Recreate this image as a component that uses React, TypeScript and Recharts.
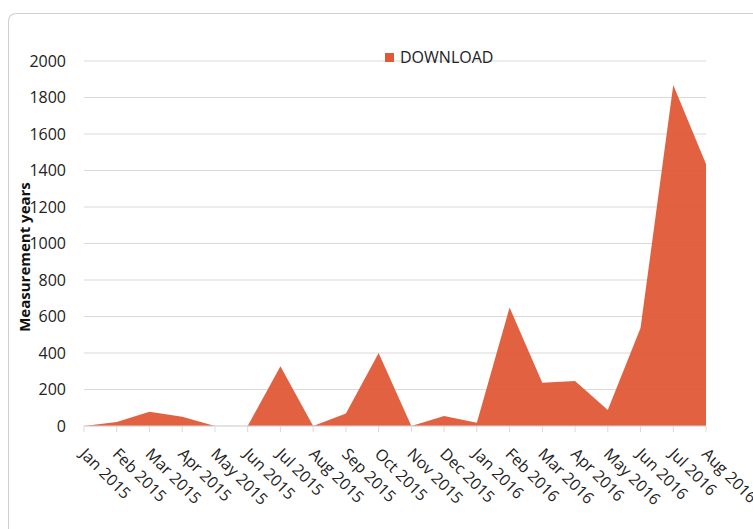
import { AreaChart, Area, XAxis, YAxis, CartesianGrid, Legend } from 'recharts'

const months = [
  'Jan 2015', 'Feb 2015', 'Mar 2015', 'Apr 2015', 'May 2015', 'Jun 2015', 'Jul 2015',
  'Aug 2015', 'Sep 2015', 'Oct 2015', 'Nov 2015', 'Dec 2015', 'Jan 2016', 'Feb 2016',
  'Mar 2016', 'Apr 2016', 'May 2016', 'Jun 2016', 'Jul 2016', 'Aug 2016',
]
const downloads = [
  0, 22, 78, 51, 0, 0, 327, 0, 69, 400, 0, 55, 18, 650, 237, 246, 88, 537, 1868, 1436,
]
const yTicks = [0, 200, 400, 600, 800, 1000, 1200, 1400, 1600, 1800, 2000]

const data = months.map((m, i) => ({ month: m, download: downloads[i] }))

const FILL = '#E05836'
const FONT = '"Open Sans", sans-serif'

// rotated month labels hanging down-right from each tick
const MonthTick = ({ x, y, payload }: { x?: number; y?: number; payload?: { value: string } }) => (
  <g transform={`translate(${(x ?? 0) - 5},${(y ?? 0) + 21}) rotate(45)`}>
    <text x={0} y={0} textAnchor="start" fill="#222" fontFamily={FONT} fontSize={16}>
      {payload?.value}
    </text>
  </g>
)

const YLabel = () => (
  <text
    x={30} y={257} transform="rotate(-90 30 257)" textAnchor="middle"
    fill="#111" fontFamily={FONT} fontSize={15} fontWeight="bold"
  >
    Measurement years
  </text>
)

const LegendBox = () => (
  <div style={{ display: 'flex', alignItems: 'center', fontFamily: FONT, fontSize: 16, color: '#222' }}>
    <span style={{ width: 9, height: 9, background: FILL, display: 'inline-block', marginRight: 6 }} />
    DOWNLOAD
  </div>
)

export default function App() {
  return (
    <div>
      <div style={{
        position: 'absolute', left: 8, top: 13, width: 745, height: 516,
        borderTop: '1px solid #cfcfcf', borderLeft: '1px solid #cfcfcf',
        borderTopLeftRadius: 8, boxSizing: 'border-box',
      }} />
      <div style={{ position: 'absolute', left: 0, top: 0 }}>
        <AreaChart width={753} height={529} data={data} margin={{ top: 61, right: 47, bottom: 13, left: 0 }}>
          <CartesianGrid vertical={false} stroke="#d9d9d9" />
          <XAxis
            dataKey="month"
            interval={0}
            height={90}
            tick={<MonthTick />}
            tickSize={6}
            axisLine={{ stroke: '#d9d9d9' }}
            tickLine={{ stroke: '#d9d9d9' }}
          />
          <YAxis
            domain={[0, 2000]}
            ticks={yTicks}
            width={84}
            axisLine={false}
            tickLine={false}
            tickMargin={12}
            tick={{ fill: '#222', fontFamily: FONT, fontSize: 16 }}
            label={<YLabel />}
          />
          <Legend
            verticalAlign="middle"
            align="center"
            content={<LegendBox />}
            wrapperStyle={{ top: 46, left: 385, width: 'auto' }}
          />
          <Area
            type="linear"
            dataKey="download"
            name="DOWNLOAD"
            stroke="none"
            fill={FILL}
            fillOpacity={0.95}
            isAnimationActive={false}
          />
        </AreaChart>
      </div>
    </div>
  )
}
